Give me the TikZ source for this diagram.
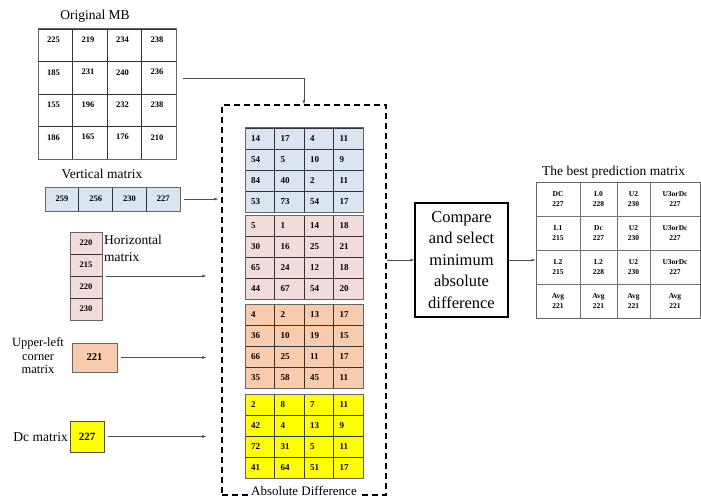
\documentclass[tikz,border=0pt]{standalone}
\usepackage{fontspec}
\setmainfont{Liberation Serif}
\usetikzlibrary{arrows.meta,fit,calc}
\definecolor{vblue}{HTML}{DBE5F1}
\definecolor{hpink}{HTML}{F2DCDB}
\definecolor{corange}{HTML}{F8CBAD}
\definecolor{dyellow}{HTML}{FFFF00}
% #1 name, #2 x0, #3 y0, #4 cell w, #5 cell h, #6 columns, #7 fill, #8 values
\newcommand{\mgrid}[8]{%
  \foreach \v [count=\k from 0] in {#8} {%
    \pgfmathtruncatemacro\rr{floor(\k/#6)}%
    \pgfmathtruncatemacro\cc{mod(\k,#6)}%
    \draw[cellline, fill=#7] ({#2+\cc*#4},{#3+\rr*#5}) rectangle ++(#4,#5);
    \node[numtxt, anchor=\tanc] (#1-\k) at ({#2+(\cc+\tx)*#4},{#3+(\rr+\ty)*#5}) {\v};
  }%
}
\begin{document}
\begin{tikzpicture}[x=1pt,y=-1pt,
  conn/.style={draw=black!70, line width=0.6pt, -{Latex[length=4pt,width=3pt]}},
  cellline/.style={draw=black!80, line width=0.6pt},
  gframe/.style={draw=black!60, line width=1pt, inner sep=0pt},
  numtxt/.style={inner sep=0pt, font=\tfont},
  lbl/.style={inner sep=1pt, font=\fontsize{13.5}{15}\selectfont},
]
\useasboundingbox (0,0) rectangle (701,500);

% Original MB
\node[lbl] (obt) at (95,16) {Original MB};
\def\tx{0.45}\def\ty{0.33}\def\tanc{center}\def\tfont{\fontsize{8.5}{10}\selectfont\bfseries}
\mgrid{ob}{38}{29}{34.5}{32.5}{4}{white}{225,219,234,238,185,231,240,236,155,196,232,238,186,165,176,210}
\node[gframe, fit={(38,29) (176,159)}] (ob) {};

% Vertical matrix
\node[lbl] (vmt) at (102,174) {Vertical matrix};
\def\tx{0.5}\def\ty{0.5}
\mgrid{vm}{45}{187}{33.75}{24}{4}{vblue}{259,256,230,227}
\node[gframe, fit={(45,187) (180,211)}] (vm) {};

% Horizontal matrix
\mgrid{hm}{70}{232}{32}{22}{1}{hpink}{220,215,220,230}
\node[gframe, fit={(70,232) (102,320)}] (hm) {};
\node[lbl, anchor=north west, align=left, font=\fontsize{13.5}{17}\selectfont] (hmt) at (103,234) {Horizontal\\matrix};

% Upper-left corner matrix
\node[lbl, align=center, font=\fontsize{12.5}{13.5}\selectfont] (ult) at (38,356) {Upper-left\\corner\\matrix};
\node[gframe, fill=corange, minimum width=45pt, minimum height=29pt, font=\bfseries\fontsize{10.5}{12}\selectfont] (ul) at (94.5,357.5) {221};

% Dc matrix
\node[lbl, anchor=east] (dct) at (69,437) {Dc matrix};
\node[gframe, draw=black!70, fill=dyellow, minimum width=34pt, minimum height=31pt, font=\bfseries\fontsize{11}{12}\selectfont] (dc) at (87,436.5) {227};

% Absolute difference grids
\def\tx{0.2}\def\ty{0.5}\def\tanc{west}\def\tfont{\fontsize{9}{10}\selectfont\bfseries}
\mgrid{ab}{245}{128}{29.5}{21}{4}{vblue}{14,17,4,11,54,5,10,9,84,40,2,11,53,73,54,17}
\node[gframe, fit={(245,128) (363,212)}] (abv) {};
\mgrid{ah}{245}{215}{29.5}{21}{4}{hpink}{5,1,14,18,30,16,25,21,65,24,12,18,44,67,54,20}
\node[gframe, fit={(245,215) (363,299)}] (abh) {};
\mgrid{au}{245}{304}{29.5}{21}{4}{corange}{4,2,13,17,36,10,19,15,66,25,11,17,35,58,45,11}
\node[gframe, fit={(245,304) (363,388)}] (abu) {};
\mgrid{ad}{245}{394}{29.5}{21}{4}{dyellow}{2,8,7,11,42,4,13,9,72,31,5,11,41,64,51,17}
\node[gframe, fit={(245,394) (363,478)}] (abd) {};

% Dashed container
\node[draw, dash pattern=on 6pt off 4pt, line width=1.3pt, minimum width=164pt, minimum height=390pt, inner sep=0pt] (absbox) at (304,300) {};
\node[lbl, fill=white, inner sep=1pt, font=\fontsize{13}{14}\selectfont] (abst) at ([yshift=5pt]absbox.south) {Absolute Difference};

% Compare box
\node[draw, line width=1.5pt, minimum width=93pt, minimum height=114pt, align=center, inner sep=2pt, font=\fontsize{16.5}{21.5}\selectfont] (cmp) at (461.5,260) {Compare\\and select\\minimum\\absolute\\difference};

% Best prediction matrix
\node[lbl, anchor=west] (bpt) at (541,172) {The best prediction matrix};
\foreach \ya in {182,216,250,284} {
  \foreach \xa/\ww in {536/44,580/37,617/33,650/50} {
    \draw[cellline, draw=black!55] (\xa,\ya) rectangle ++(\ww,34);
  }
}
\foreach \txt [count=\k from 0] in {{DC\\227},{L0\\228},{U2\\230},{U3orDc\\227},
  {L1\\215},{Dc\\227},{U2\\230},{U3orDc\\227},
  {L2\\215},{L2\\228},{U2\\230},{U3orDc\\227},
  {Avg\\221},{Avg\\221},{Avg\\221},{Avg\\221}} {
  \pgfmathtruncatemacro\cc{mod(\k,4)}
  \pgfmathtruncatemacro\rr{floor(\k/4)}
  \pgfmathsetmacro\xc{{558,598.5,633.5,675}[\cc]}
  \pgfmathsetmacro\yc{199+34*\rr}
  \node[inner sep=0pt, align=center, font=\bfseries\fontsize{7.5}{9.5}\selectfont] (bp-\k) at (\xc,\yc) {\txt};
}
\node[gframe, fit={(536,182) (700,318)}] (bp) {};

% Connectors
\draw[conn] ([shift={(6,-16)}]ob.east) -| (absbox.north);
\draw[conn] ([xshift=3pt]vm.east) -- ([xshift=-3pt]vm.east -| absbox.west);
\draw[conn] ([xshift=3pt]hm.east) -- ([xshift=-15pt]hm.east -| absbox.west);
\draw[conn] ([xshift=3pt]ul.east) -- ([xshift=-15pt]ul.east -| absbox.west);
\draw[conn] ([xshift=3pt]dc.east) -- ([xshift=-15pt]dc.east -| absbox.west);
\draw[conn] (cmp.west -| absbox.east) -- (cmp.west);
\draw[conn] (cmp.east) -- (cmp.east -| bp.west);
\end{tikzpicture}
\end{document}
